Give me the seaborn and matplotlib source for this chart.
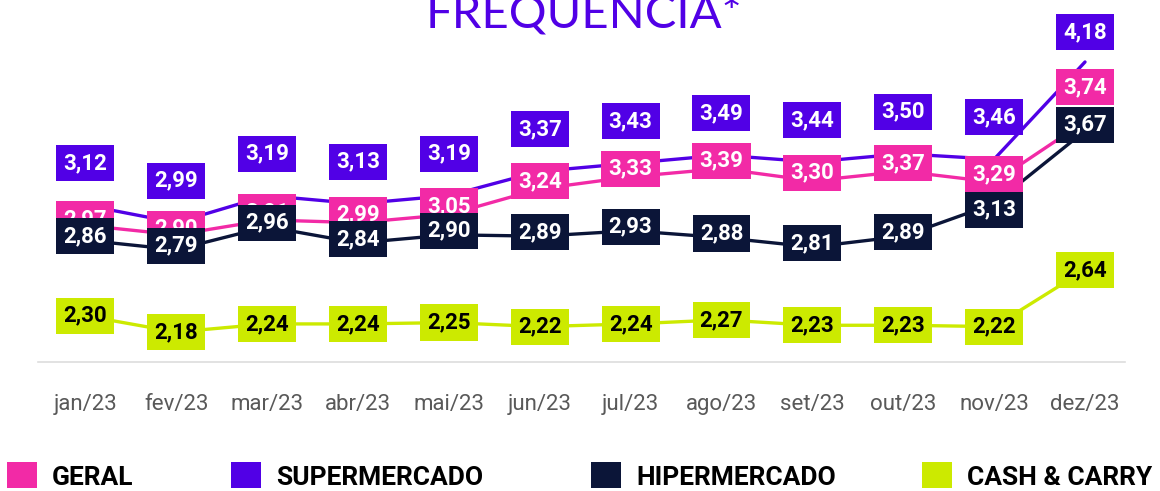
import matplotlib
matplotlib.use("Agg")
import matplotlib.pyplot as plt
from matplotlib.patches import Rectangle
import seaborn as sns
import pandas as pd

months = ["jan/23", "fev/23", "mar/23", "abr/23", "mai/23", "jun/23",
          "jul/23", "ago/23", "set/23", "out/23", "nov/23", "dez/23"]
geral = [2.97, 2.90, 3.01, 2.99, 3.05, 3.24, 3.33, 3.39, 3.30, 3.37, 3.29, 3.74]
supermercado = [3.12, 2.99, 3.19, 3.13, 3.19, 3.37, 3.43, 3.49, 3.44, 3.50, 3.46, 4.18]
hipermercado = [2.86, 2.79, 2.96, 2.84, 2.90, 2.89, 2.93, 2.88, 2.81, 2.89, 3.13, 3.67]
cash_carry = [2.30, 2.18, 2.24, 2.24, 2.25, 2.22, 2.24, 2.27, 2.23, 2.23, 2.22, 2.64]
series_names = ["GERAL", "SUPERMERCADO", "HIPERMERCADO", "CASH & CARRY"]
title = "FREQUENCIA*"

colors = {"GERAL": "#F22AA6", "SUPERMERCADO": "#5100E6",
          "HIPERMERCADO": "#0B1538", "CASH & CARRY": "#CCEA00"}
text_colors = {"GERAL": "white", "SUPERMERCADO": "white",
               "HIPERMERCADO": "white", "CASH & CARRY": "black"}
zorders = {"GERAL": 4, "SUPERMERCADO": 6, "HIPERMERCADO": 5, "CASH & CARRY": 4}
# label vertical offsets (pixels)
offsets = {
    "GERAL": [6, 6, 8, 8, 8, 8, 8, 8, 8, 8, 8, 34],
    "SUPERMERCADO": [42] * 11 + [30],
    "HIPERMERCADO": [4] * 10 + [-6, 6],
    "CASH & CARRY": [0] * 12,
}

values = {"GERAL": geral, "SUPERMERCADO": supermercado,
          "HIPERMERCADO": hipermercado, "CASH & CARRY": cash_carry}
rows = []
for name in series_names:
    for i, m in enumerate(months):
        rows.append({"mes": m, "idx": i, "serie": name, "valor": values[name][i]})
df = pd.DataFrame(rows)

sns.set_theme(style="white")
plt.rcParams["font.family"] = ["Roboto", "DejaVu Sans"]

fig = plt.figure(figsize=(11.6, 4.91), dpi=100)
W, H = 1160, 491
ax = fig.add_axes([38 / W, 1 - 362 / H, (1125 - 38) / W, 362 / H])

sns.lineplot(data=df, x="idx", y="valor", hue="serie", hue_order=series_names,
             palette=colors, linewidth=2.4, legend=False, ax=ax, zorder=2)

for name in series_names:
    for i, v in enumerate(values[name]):
        ax.annotate(f"{v:.2f}".replace(".", ","), xy=(i, v),
                    xytext=(0, offsets[name][i]), textcoords="offset pixels",
                    ha="center", va="center", fontsize=16, fontweight="bold",
                    color=text_colors[name], zorder=zorders[name],
                    annotation_clip=False,
                    bbox=dict(boxstyle="square,pad=0.32", fc=colors[name],
                              ec="none"))

ax.set_xlim(-0.52, 11.44)
ax.set_ylim(1.958, 4.639)
ax.set_xticks(range(len(months)))
ax.set_xticklabels(months)
ax.set_yticks([])
ax.set_xlabel("")
ax.set_ylabel("")
ax.tick_params(axis="x", length=0, pad=23, labelsize=16, labelcolor="#595959")
for s in ["top", "left", "right"]:
    ax.spines[s].set_visible(False)
ax.spines["bottom"].set_color("#DDDDDD")
ax.spines["bottom"].set_linewidth(1.2)

fig.text(584 / W, 1 - 28 / H, title, ha="center", va="baseline",
         fontsize=34, color="#5100E6", family=["Lato", "DejaVu Sans"])

legend_x = [7, 231, 591, 922]
for name, x in zip(series_names, legend_x):
    fig.patches.append(Rectangle((x / W, 1 - 488 / H), 30 / W, 26 / H,
                                 transform=fig.transFigure, fc=colors[name],
                                 ec="none"))
    fig.text((x + 45) / W, 1 - 485 / H, name, ha="left", va="baseline",
             fontsize=19, fontweight="bold", color="black")

fig.savefig("out.png", dpi=100)
